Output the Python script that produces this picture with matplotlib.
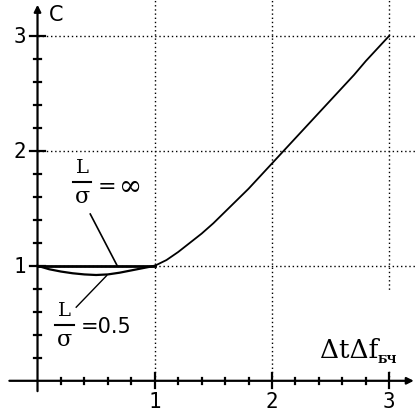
import matplotlib
matplotlib.use("Agg")
import matplotlib.pyplot as plt
from matplotlib.patches import Rectangle
import numpy as np

# curve data
x_main = [1.0, 1.1, 1.2, 1.3, 1.4, 1.5, 1.6, 1.7, 1.8, 1.9, 2.0,
          2.1, 2.2, 2.3, 2.4, 2.5, 2.6, 2.7, 2.8, 2.9, 3.0]
c_main = [1.0, 1.05, 1.12, 1.20, 1.28, 1.37, 1.47, 1.57, 1.67, 1.78, 1.89,
          2.0, 2.11, 2.22, 2.33, 2.44, 2.55, 2.66, 2.78, 2.89, 3.0]
x_inf = [0.0, 1.0]
c_inf = [1.0, 1.0]
x_half = [0.0, 0.1, 0.2, 0.3, 0.4, 0.5, 0.6, 0.7, 0.8, 0.9, 1.0]
c_half = [1.0, 0.97, 0.95, 0.935, 0.925, 0.92, 0.925, 0.94, 0.96, 0.98, 1.0]
x_ticklabels = ["1", "2", "3"]
y_ticklabels = ["1", "2", "3"]

fig = plt.figure(figsize=(4.15, 4.14), dpi=100)
ax = fig.add_axes([0, 0, 1, 1])
ax.set_xlim(-0.32, 3.22)
ax.set_ylim(-0.28, 3.32)
ax.axis("off")

# dotted grid
for v in (1, 2, 3):
    ax.plot([v, v], [0, 3.32], color="black", lw=1, ls=(0, (1, 2)), zorder=1)
    ax.plot([0, 3.22], [v, v], color="black", lw=1, ls=(0, (1, 2)), zorder=1)

# white box behind the x label
ax.add_patch(Rectangle((2.38, 0.1), 0.84, 0.68, facecolor="white",
                       edgecolor="none", zorder=2))

# axes with arrows
ax.annotate("", xy=(3.21, 0), xytext=(-0.24, 0),
            arrowprops=dict(arrowstyle="-|>", color="black", lw=1.6,
                            mutation_scale=10, shrinkA=0, shrinkB=0), zorder=4)
ax.annotate("", xy=(0, 3.27), xytext=(0, -0.09),
            arrowprops=dict(arrowstyle="-|>", color="black", lw=1.6,
                            mutation_scale=10, shrinkA=0, shrinkB=0), zorder=4)

# ticks
for t in np.arange(0.2, 3.01, 0.2):
    big = abs(t - round(t)) < 1e-6
    h = 0.065 if big else 0.027
    ax.plot([t, t], [-h, h], color="black", lw=1.6, zorder=4)
    ax.plot([-h, h], [t, t], color="black", lw=1.6, zorder=4)

for i, lab in enumerate(x_ticklabels):
    ax.text(i + 1, -0.18, lab, ha="center", va="center", fontsize=15,
            family="DejaVu Sans Mono")
for i, lab in enumerate(y_ticklabels):
    ax.text(-0.15, i + 1, lab, ha="center", va="center", fontsize=15,
            family="DejaVu Sans Mono")
ax.text(0.1, 3.19, "C", ha="left", va="center", fontsize=15,
        family="DejaVu Sans")

# curves
ax.plot(x_main, c_main, color="black", lw=1.3, zorder=3)
ax.plot(x_inf, c_inf, color="black", lw=2.0, zorder=3)
ax.plot(x_half, c_half, color="black", lw=1.6, zorder=3)

# leader lines
ax.plot([0.45, 0.68], [1.45, 1.0], color="black", lw=1.2, zorder=3)
ax.plot([0.33, 0.59], [0.64, 0.915], color="black", lw=1.0, zorder=3)


def fraction(xc, ybar, half):
    ax.text(xc, ybar + 0.13, "L", ha="center", va="center", fontsize=14,
            family="DejaVu Serif", zorder=5)
    ax.plot([xc - half, xc + half], [ybar, ybar], color="black", lw=1.5,
            zorder=5)
    ax.text(xc, ybar - 0.12, "\u03c3", ha="center", va="center", fontsize=16,
            family="DejaVu Serif", zorder=5)


fraction(0.38, 1.73, 0.08)
ax.text(0.51, 1.69, "=", ha="left", va="center", fontsize=16,
        family="DejaVu Sans", zorder=5)
ax.text(0.695, 1.69, "\u221e", ha="left", va="center", fontsize=20,
        family="DejaVu Serif", zorder=5)
fraction(0.23, 0.485, 0.08)
ax.text(0.37, 0.475, "=0.5", ha="left", va="center", fontsize=15,
        family="DejaVu Sans", zorder=5)

ax.text(2.41, 0.21, "\u0394t\u0394f", ha="left", va="baseline", fontsize=19,
        family="DejaVu Serif", zorder=5)
ax.text(2.9, 0.16, "\u0411\u0427", ha="left", va="baseline", fontsize=8,
        family="DejaVu Serif", weight="bold", zorder=5)

fig.savefig("out.png", dpi=100)
